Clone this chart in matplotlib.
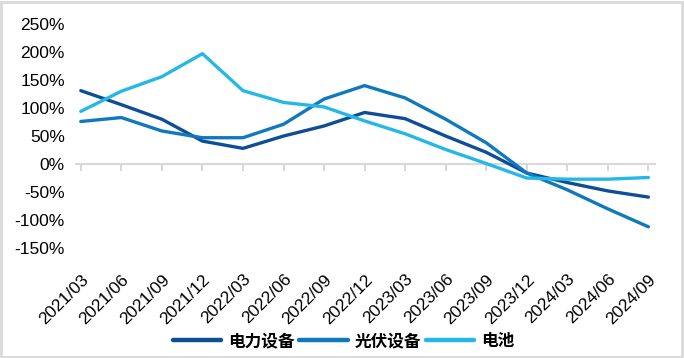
import matplotlib.pyplot as plt
from matplotlib.patches import Rectangle

plt.rcParams['font.family'] = ['Liberation Sans', 'Noto Sans CJK SC', 'DejaVu Sans']

quarters = ['2021/03', '2021/06', '2021/09', '2021/12', '2022/03', '2022/06', '2022/09',
            '2022/12', '2023/03', '2023/06', '2023/09', '2023/12', '2024/03', '2024/06', '2024/09']
power_equip = [131, 106, 80, 41, 28, 50, 68, 92, 81, 50, 21, -16, -33, -48, -59]
pv_equip = [76, 83, 59, 47, 47, 71, 116, 140, 118, 80, 38, -16, -46, -80, -112]
battery = [94, 130, 156, 197, 131, 110, 102, 77, 54, 26, 1, -25, -27, -27, -24]
y_ticks = [-150, -100, -50, 0, 50, 100, 150, 200, 250]

fig = plt.figure(figsize=(6.84, 3.58), dpi=100)
ax = fig.add_axes([0.111, 0.307, 0.847, 0.626])
x = range(len(quarters))

ax.plot(x, power_equip, color='#0D4E97', lw=2.4, solid_capstyle='round', label='电力设备', zorder=3)
ax.plot(x, pv_equip, color='#1079BD', lw=2.4, solid_capstyle='round', label='光伏设备', zorder=3)
ax.plot(x, battery, color='#25B8E6', lw=2.4, solid_capstyle='round', label='电池', zorder=3)

ax.set_xlim(-0.12, 14.17)
ax.set_ylim(-150, 250)
ax.set_yticks(y_ticks, [f'{v}%' for v in y_ticks])
ax.tick_params(axis='y', length=0, labelsize=12.5, pad=8)

# axis line at zero with small gray ticks, labels at the bottom
for s in ['top', 'right', 'left']:
    ax.spines[s].set_visible(False)
ax.spines['bottom'].set_position(('data', 0))
ax.spines['bottom'].set_color('#D9D9D9')
ax.spines['bottom'].set_linewidth(1.5)
ax.set_xticks(list(x))
ax.tick_params(axis='x', labelbottom=False, direction='out', length=5, width=1.5, color='#D9D9D9')

sec = ax.secondary_xaxis('bottom')
sec.set_xticks(list(x), quarters, rotation=45, ha='right', rotation_mode='anchor', fontsize=12.5)
sec.tick_params(length=0, pad=17)
sec.spines['bottom'].set_visible(False)

leg = fig.legend(loc='lower center', bbox_to_anchor=(0.502, -0.02), ncol=3, frameon=False,
                 prop={'family': ['Noto Sans CJK SC'], 'size': 12, 'weight': 'bold'},
                 handlelength=2.9, handletextpad=0.4, columnspacing=0.3)
for line in leg.get_lines():
    line.set_linewidth(3.2)

fig.patches.append(Rectangle((0.002, 0.004), 0.995, 0.991, transform=fig.transFigure,
                             fill=False, edgecolor='#D9D9D9', lw=2))

fig.savefig('out.png', dpi=100)
